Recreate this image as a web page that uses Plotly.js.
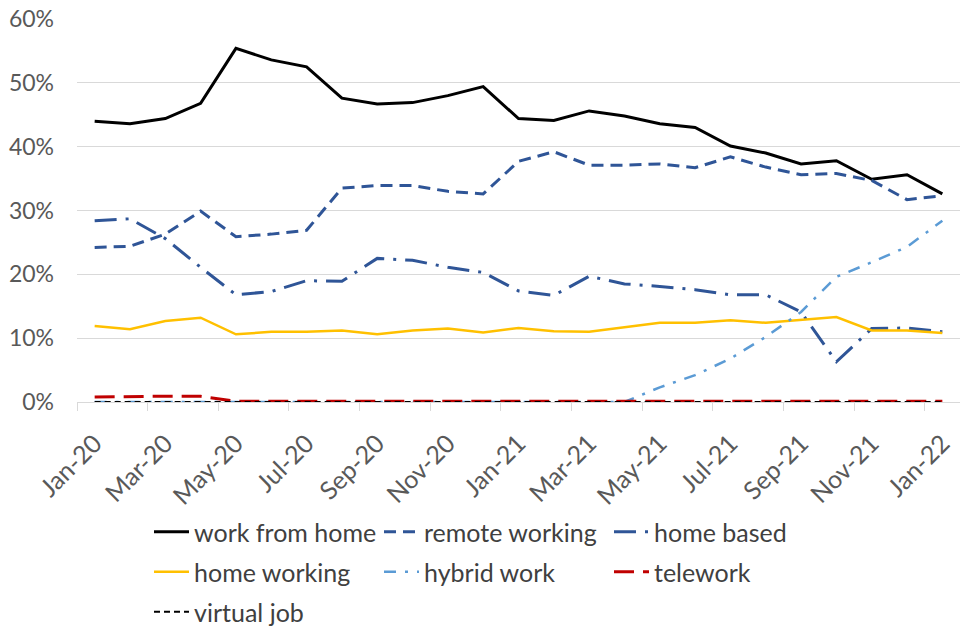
<!DOCTYPE html>
<html>
<head>
<meta charset="utf-8">
<script src="https://cdn.plot.ly/plotly-3.0.1.min.js"></script>
<style>html,body{margin:0;padding:0;background:#fff;}#chart{width:960px;height:626px;}</style>
</head>
<body>
<div id="chart"></div>
<script>
var months = ["Jan-20","Feb-20","Mar-20","Apr-20","May-20","Jun-20","Jul-20","Aug-20","Sep-20","Oct-20","Nov-20","Dec-20",
              "Jan-21","Feb-21","Mar-21","Apr-21","May-21","Jun-21","Jul-21","Aug-21","Sep-21","Oct-21","Nov-21","Dec-21","Jan-22"];

var workFromHome = [0.440,0.436,0.444,0.468,0.554,0.536,0.525,0.476,0.467,0.469,0.480,0.494,
                    0.444,0.441,0.456,0.448,0.436,0.430,0.401,0.390,0.373,0.378,0.349,0.356,0.326];
var remoteWorking = [0.242,0.244,0.263,0.299,0.259,0.263,0.269,0.335,0.339,0.339,0.330,0.326,
                     0.377,0.392,0.371,0.371,0.373,0.367,0.384,0.368,0.356,0.358,0.347,0.317,0.323];
var homeBased = [0.284,0.287,0.256,0.211,0.168,0.173,0.190,0.189,0.225,0.222,0.211,0.203,
                 0.174,0.167,0.197,0.185,0.181,0.176,0.168,0.168,0.141,0.063,0.115,0.116,0.110];
var homeWorking = [0.119,0.114,0.127,0.132,0.106,0.110,0.110,0.112,0.106,0.112,0.115,0.109,
                   0.116,0.111,0.110,0.117,0.124,0.124,0.128,0.124,0.129,0.133,0.112,0.112,0.108];
var hybridWork = [0,0,0,0,0,0,0,0,0,0,0,0,
                  0,0,0,0,0.023,0.042,0.068,0.102,0.141,0.196,0.219,0.243,0.284];
var telework = [0.008,0.009,0.009,0.009,0.001,0.001,0.001,0.001,0.001,0.001,0.001,0.001,
                0.001,0.001,0.001,0.001,0.001,0.001,0.001,0.001,0.001,0.001,0.001,0.001,0.001];
var virtualJob = [0,0,0,0,0,0,0,0,0,0,0,0,0,0,0,0,0,0,0,0,0,0,0,0,0];

var names = ["work from home","remote working","home based","home working","hybrid work","telework","virtual job"];
var series = [workFromHome, remoteWorking, homeBased, homeWorking, hybridWork, telework, virtualJob];
var legendRow = ["legend","legend","legend","legend2","legend2","legend2","legend3"];
var styles = [
  {color:"#000000", width:3, dash:"solid"},
  {color:"#2F5597", width:3, dash:"12px,7px"},
  {color:"#2F5597", width:3, dash:"22px,9px,3px,9px"},
  {color:"#FFC000", width:2.5, dash:"solid"},
  {color:"#5B9BD5", width:2.5, dash:"12px,9px,3px,9px"},
  {color:"#C00000", width:3, dash:"20px,9px"},
  {color:"#000000", width:2, dash:"6px,4px"}
];

var traces = series.map(function(s,i){
  return {x: months, y: s, name: names[i], type:"scatter", mode:"lines",
          line: styles[i], hoverinfo:"skip", legend: legendRow[i]};
});

var tickLabels = months.filter(function(m,i){return i%2===0;});

function legendAt(yPx){
  return {orientation:"h", xref:"container", yref:"container", x:149/960, y:1-yPx/626,
          xanchor:"left", yanchor:"middle", entrywidth:180, entrywidthmode:"pixels",
          itemwidth:35, bgcolor:"rgba(0,0,0,0)",
          font:{family:"Lato, 'Open Sans', sans-serif", size:25, color:"#404040"}};
}

var layout = {
  width:960, height:626,
  margin:{l:77, r:0, t:19, b:224},
  paper_bgcolor:"#ffffff", plot_bgcolor:"#ffffff",
  font:{family:"Lato, 'Open Sans', sans-serif", color:"#595959", size:20},
  showlegend:true,
  legend: legendAt(532),
  legend2: legendAt(572),
  legend3: legendAt(612),
  xaxis:{type:"category", range:[-0.5,24.5], tickmode:"array", tickvals:tickLabels, ticktext:tickLabels,
         tickson:"boundaries", ticks:"outside", ticklen:8, tickcolor:"#d9d9d9", tickwidth:1,
         showgrid:false, showline:true, linecolor:"#d9d9d9", linewidth:1,
         tickangle:-45, ticklabelstandoff:16, tickfont:{size:25, color:"#595959"}, fixedrange:true},
  yaxis:{range:[0,0.6], dtick:0.1, tickformat:".0%", showgrid:true, gridcolor:"#d9d9d9", gridwidth:1,
         zeroline:false, showline:false, ticks:"", ticklabelstandoff:22,
         tickfont:{size:23, color:"#595959"}, fixedrange:true}
};

Plotly.newPlot("chart", traces, layout, {displayModeBar:false, staticPlot:true});
</script>
</body>
</html>
